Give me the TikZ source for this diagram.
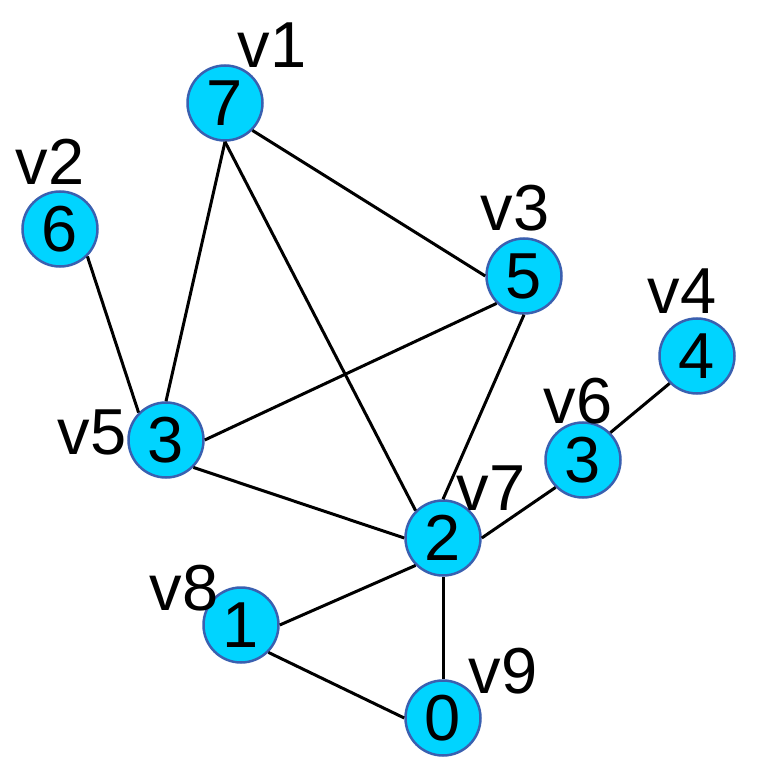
\documentclass[tikz,border=0pt]{standalone}
\usepackage{fontspec}
\setmainfont{Liberation Sans}
\usepackage{tikz}
\definecolor{vfill}{RGB}{0,212,255}
\definecolor{vline}{RGB}{58,96,176}

\begin{document}
\begin{tikzpicture}[x=1pt,y=-1pt]
		\tikzstyle{VertexStyle}=[circle,draw=vline,fill=vfill,line width=2.5pt,
		  minimum size=75pt,inner sep=0pt,font=\fontsize{65}{65}\selectfont]
		\tikzstyle{LabelStyle}=[inner sep=0pt,font=\fontsize{65}{65}\selectfont]
		\tikzstyle{EdgeStyle}=[line width=3pt,black]
		\useasboundingbox (0,0) rectangle (763,759);
		% vertices
		\node[VertexStyle] (v1) at (225,103) {7};
		\node[VertexStyle] (v2) at (60,229) {6};
		\node[VertexStyle] (v3) at (524,276) {5};
		\node[VertexStyle] (v4) at (697,356) {4};
		\node[VertexStyle] (v5) at (166,440) {3};
		\node[VertexStyle] (v6) at (583,460) {3};
		\node[VertexStyle] (v7) at (443,538) {2};
		\node[VertexStyle] (v8) at (241,625) {1};
		\node[VertexStyle] (v9) at (443,718) {0};
		% names
		\node[LabelStyle] (l1) at (272,45) {v1};
		\node[LabelStyle] (l2) at (50,162) {v2};
		\node[LabelStyle] (l3) at (515,208) {v3};
		\node[LabelStyle] (l4) at (682,291) {v4};
		\node[LabelStyle] (l5) at (92,432) {v5};
		\node[LabelStyle] (l6) at (578,401) {v6};
		\node[LabelStyle] (l7) at (491,488) {v7};
		\node[LabelStyle] (l8) at (184,588) {v8};
		\node[LabelStyle] (l9) at (503,671) {v9};
		% edges
		\draw[EdgeStyle] (v1.south east) -- (v3.west);
		\draw[EdgeStyle] (v1.south) -- (v5.north);
		\draw[EdgeStyle] (v1.south) -- (v7.north west);
		\draw[EdgeStyle] (v2.south east) -- (v5.north west);
		\draw[EdgeStyle] (v3.south west) -- (v5.east);
		\draw[EdgeStyle] (v3.south) -- (v7.north);
		\draw[EdgeStyle] (v5.south east) -- (v7.west);
		\draw[EdgeStyle] (v7.east) -- (v6.south west);
		\draw[EdgeStyle] (v6.north east) -- (v4.south west);
		\draw[EdgeStyle] (v7.south west) -- (v8.east);
		\draw[EdgeStyle] (v7.south) -- (v9.north);
		\draw[EdgeStyle] (v8.south east) -- (v9.west);
	\end{tikzpicture}
\end{document}
